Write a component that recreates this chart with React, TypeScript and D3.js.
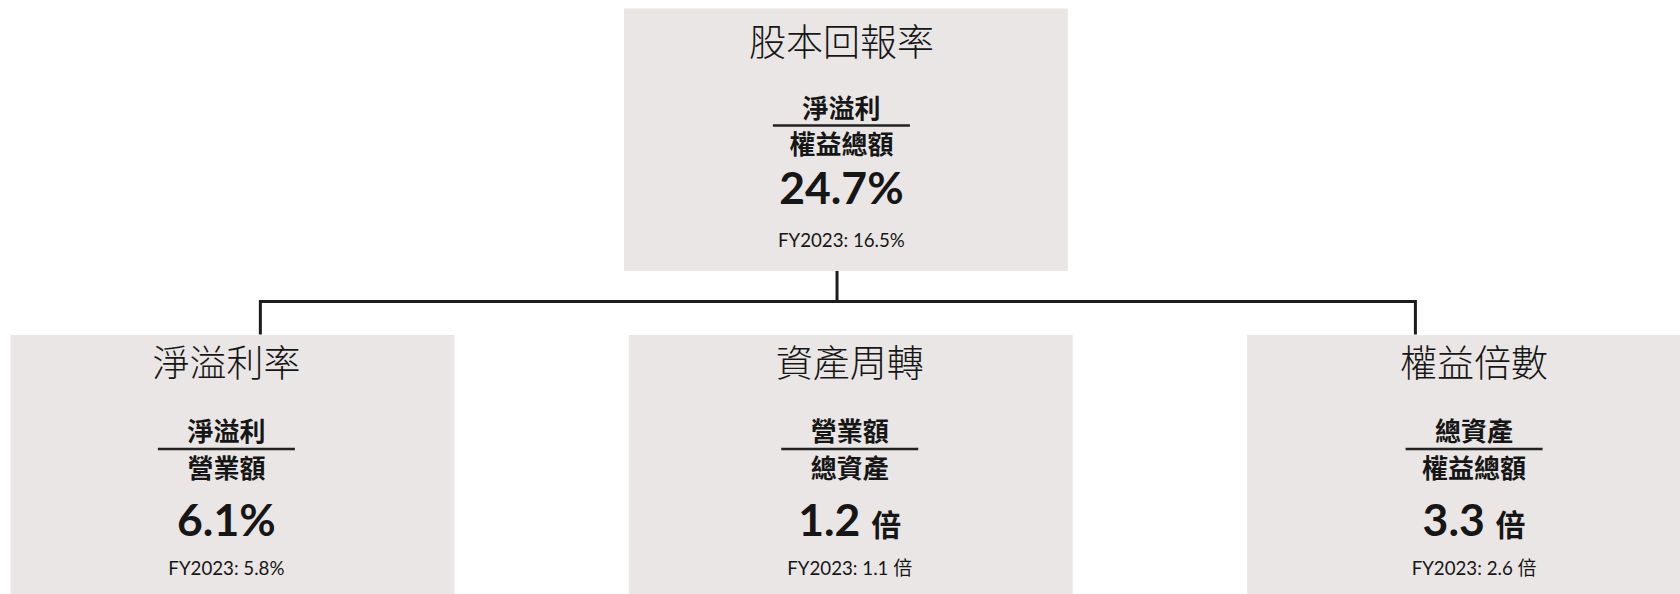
import * as d3 from 'd3'

// ROE DuPont breakdown: first entry is the parent node, the rest its children
const titles = ['股本回報率', '淨溢利率', '資產周轉', '權益倍數']
const numerators = ['淨溢利', '淨溢利', '營業額', '總資產']
const denominators = ['權益總額', '營業額', '總資產', '權益總額']
const values = [24.7, 6.1, 1.2, 3.3]
const units = ['%', '%', '倍', '倍']
const prevValues = [16.5, 5.8, 1.1, 2.6]
const prevLabel = 'FY2023'

const W = 1680
const H = 594
const BOX_FILL = '#e9e6e5'
const INK = '#161616'
const LATIN = "Lato, 'Noto Sans CJK TC', sans-serif"
const CJK = "'Noto Sans CJK TC', 'Noto Sans CJK SC', sans-serif"

// vertical placement of each text row, measured from the top of the box
const rowLayout = {
    top: { y: 8.5, h: 262.5, title: 31.5, num: 97.5, rule: 117, den: 133.5, value: 195, prev: 238 },
    bottom: { y: 335, h: 270, title: 26, num: 94, rule: 114, den: 131, value: 201, prev: 240 }
}
// small horizontal nudges of the text inside each box, and where the connector meets it
const textShift = [-4.5, -6, -1, 5]
const anchorAt = [0.48, 0.563, null, 0.379]

const fmt = d3.format('.1f')

const ValueText = ({ cx, y, val, unit }) => {
    const props = { x: cx, y, textAnchor: 'middle', fontFamily: LATIN, fontWeight: 700, fontSize: 44.5, fill: INK }
    if (unit === '%') return <text {...props}>{fmt(val) + '%'}</text>
    return (
        <text {...props}>
            {fmt(val) + ' '}
            <tspan fontFamily={CJK} fontSize={30} fontWeight={700}>{unit}</tspan>
        </text>
    )
}

const PrevText = ({ cx, y, val, unit }) => {
    const props = { x: cx, y, textAnchor: 'middle', fontFamily: LATIN, fontSize: 18.7, fill: INK }
    if (unit === '%') return <text {...props}>{`${prevLabel}: ${fmt(val)}%`}</text>
    return (
        <text {...props}>
            {`${prevLabel}: ${fmt(val)} `}
            <tspan fontFamily={CJK} fontSize={19}>{unit}</tspan>
        </text>
    )
}

const Node = ({ i, x, w, row }) => {
    const L = rowLayout[row]
    const cx = x + w / 2 + textShift[i]
    const ruleW = 137
    return (
        <g>
            <rect x={x} y={L.y} width={w} height={L.h} fill={BOX_FILL} />
            <text x={cx} y={L.y + L.title} textAnchor="middle" dominantBaseline="central"
                fontFamily={CJK} fontWeight={300} fontSize={37} fill={INK}>{titles[i]}</text>
            <text x={cx} y={L.y + L.num} textAnchor="middle" dominantBaseline="central"
                fontFamily={CJK} fontWeight={700} fontSize={26} fill={INK}>{numerators[i]}</text>
            <line x1={cx - ruleW / 2} x2={cx + ruleW / 2} y1={L.y + L.rule} y2={L.y + L.rule}
                stroke="#222" strokeWidth={2.5} />
            <text x={cx} y={L.y + L.den} textAnchor="middle" dominantBaseline="central"
                fontFamily={CJK} fontWeight={700} fontSize={26} fill={INK}>{denominators[i]}</text>
            <ValueText cx={cx} y={L.y + L.value} val={values[i]} unit={units[i]} />
            <PrevText cx={cx} y={L.y + L.prev} val={prevValues[i]} unit={units[i]} />
        </g>
    )
}

export default function App() {
    const children = titles.slice(1)
    const xBand = d3.scaleBand<string>()
        .domain(children)
        .range([10.5, 1691])
        .paddingInner(0.2823)
        .paddingOuter(0)
    const w = xBand.bandwidth()
    const topX = 624

    const boxX = [topX, ...children.map(c => xBand(c) as number)]
    const rootY = rowLayout.top.y + rowLayout.top.h
    const busY = 301.5
    const childY = rowLayout.bottom.y

    const rootAnchor = boxX[0] + w * (anchorAt[0] as number)
    const kidAnchors = children
        .map((c, k) => anchorAt[k + 1] == null ? null : boxX[k + 1] + w * (anchorAt[k + 1] as number))
        .filter(v => v != null) as number[]

    const path = d3.path()
    path.moveTo(rootAnchor, rootY)
    path.lineTo(rootAnchor, busY)
    path.moveTo(d3.min(kidAnchors) as number, busY)
    path.lineTo(d3.max(kidAnchors) as number, busY)
    kidAnchors.forEach(ax => {
        path.moveTo(ax, busY)
        path.lineTo(ax, childY - 2)
    })

    return (
        <svg width={W} height={H} style={{ position: 'absolute', left: 0, top: 0, background: '#fff' }}>
            <path d={path.toString()} fill="none" stroke="#1c1c1c" strokeWidth={3} strokeLinecap="square" />
            {boxX.map((x, i) => (
                <Node key={titles[i]} i={i} x={x} w={w} row={i === 0 ? 'top' : 'bottom'} />
            ))}
        </svg>
    )
}
